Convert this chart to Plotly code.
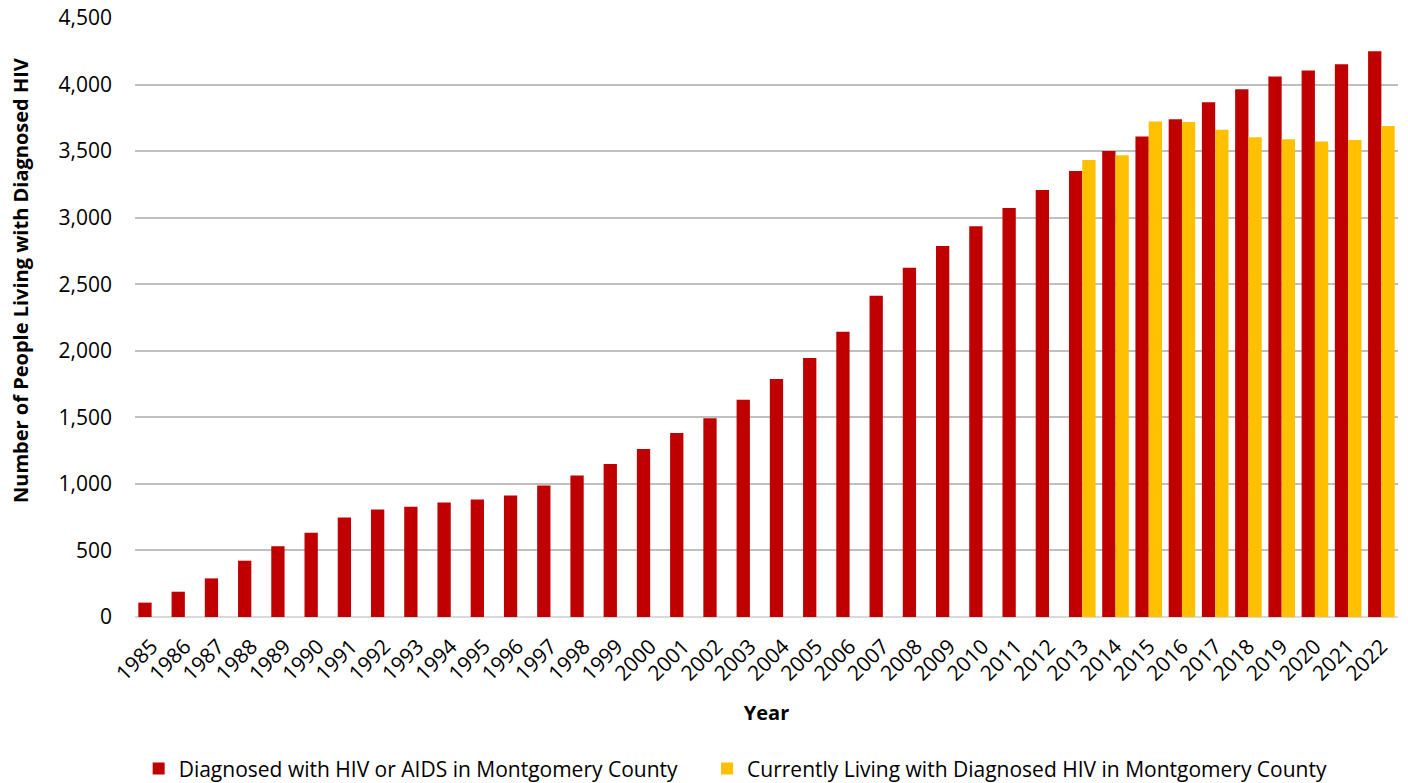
import plotly.graph_objects as go

years = [str(y) for y in range(1985, 2023)]
diagnosed = [108, 190, 290, 423, 532, 633, 748, 808, 828, 860, 883, 913, 988, 1063,
             1150, 1263, 1383, 1493, 1633, 1788, 1945, 2143, 2413, 2623, 2788, 2936,
             3073, 3208, 3350, 3500, 3610, 3740, 3868, 3965, 4060, 4105, 4153, 4250]
living = [None] * 28 + [3433, 3468, 3723, 3718, 3660, 3605, 3590, 3573, 3583, 3688]

name_diag = "Diagnosed with HIV or AIDS in Montgomery County"
name_live = "Currently Living with Diagnosed HIV in Montgomery County"
y_title = "Number of People Living with Diagnosed HIV"

FONT = "'Open Sans', Lato, sans-serif"

fig = go.Figure()
fig.add_trace(go.Bar(x=years, y=diagnosed, name=name_diag, marker_color="#C00000",
                     marker_line_width=0, legend="legend"))
fig.add_trace(go.Bar(x=years, y=living, name=name_live, marker_color="#FFC000",
                     marker_line_width=0, legend="legend2"))

legend_common = dict(orientation="h", xref="container", yref="container",
                     xanchor="left", y=0.002, yanchor="bottom",
                     font=dict(size=21), itemsizing="constant")

fig.update_layout(
    width=1408, height=783,
    margin=dict(l=127, r=18, t=10, b=174),
    plot_bgcolor="white", paper_bgcolor="white",
    barmode="group", bargap=0.2, bargroupgap=0,
    font=dict(family=FONT, size=21, color="black"),
    legend=dict(x=0.0928, **legend_common),
    legend2=dict(x=0.4965, **legend_common),
    showlegend=True,
)
fig.update_xaxes(
    type="category", tickangle=-45, showgrid=False, showline=False,
    automargin=False, tickfont=dict(size=21), ticklabelstandoff=12,
    title=dict(text="<b>Year</b>", font=dict(size=20), standoff=20),
)
fig.update_yaxes(
    range=[0, 4500], dtick=500, tickformat=",", showgrid=True,
    gridcolor="#BFBFBF", gridwidth=1.5, zeroline=True, zerolinecolor="#D9D9D9",
    zerolinewidth=1.5, showline=False, ticks="", ticklabelstandoff=22,
    ticklabeloverflow="allow",
    automargin=False, tickfont=dict(size=21),
)
fig.add_annotation(
    text="<b>" + y_title + "</b>", textangle=-90, showarrow=False,
    xref="paper", yref="paper", x=-0.0911, y=0.5626,
    xanchor="center", yanchor="middle", font=dict(size=20, color="black"),
)

fig.write_html("out.html")
